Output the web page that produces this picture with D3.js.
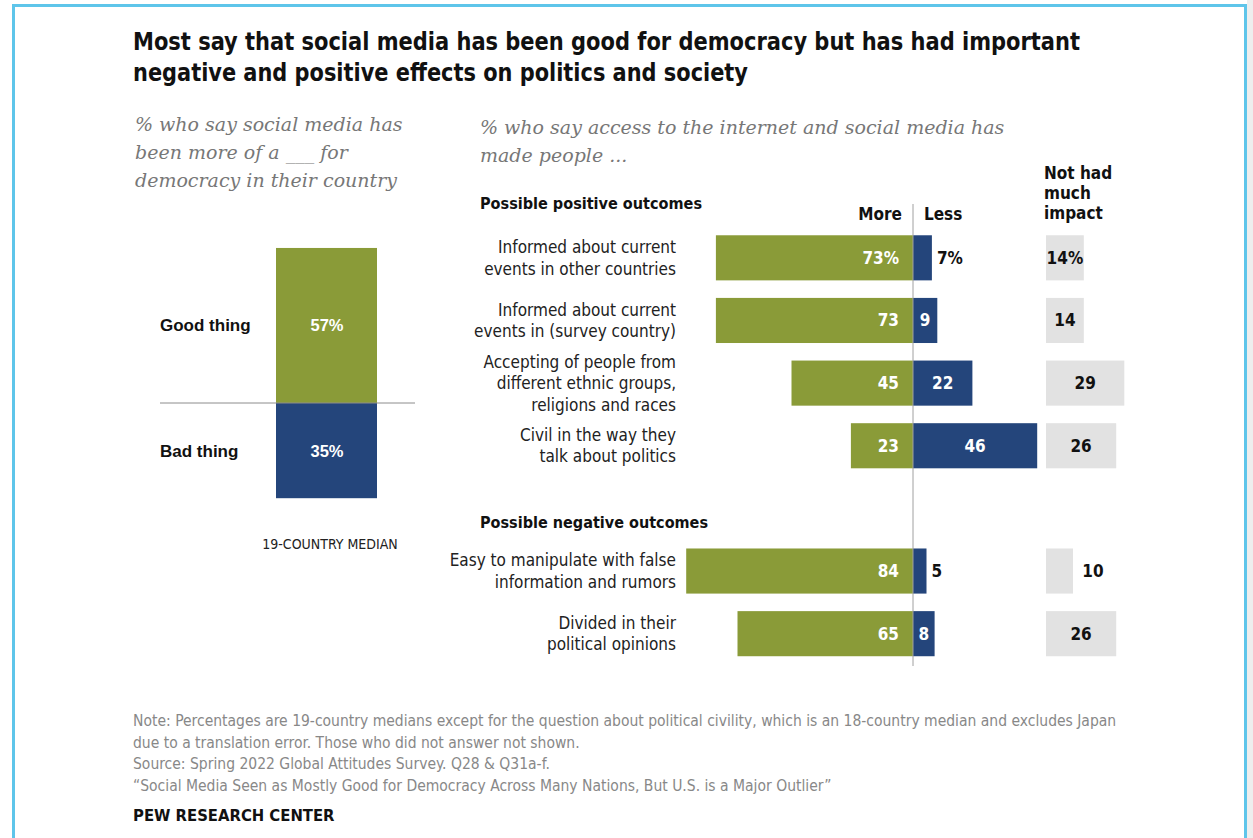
<!DOCTYPE html>
<html>
<head>
<meta charset="utf-8">
<script src="https://cdnjs.cloudflare.com/ajax/libs/d3/7.8.5/d3.min.js"></script>
<style>
  body { margin: 0; background: #fff; }
  svg { display: block; }
  .narrow { font-family: 'Liberation Sans Narrow', 'DejaVu Sans Condensed', 'Roboto Condensed', sans-serif; }
  .wide { font-family: 'Liberation Sans', Arial, sans-serif; }
  .serif { font-family: 'DejaVu Serif', Georgia, serif; font-style: italic; fill: #777; }
</style>
</head>
<body>
<svg id="chart" width="1253" height="838"></svg>
<script>
// left panel
var democracyLabels = ['Good thing', 'Bad thing'];
var democracyValues = [57, 35];

// right panel
var outcomeItems = [
  ['Informed about current', 'events in other countries'],
  ['Informed about current', 'events in (survey country)'],
  ['Accepting of people from', 'different ethnic groups,', 'religions and races'],
  ['Civil in the way they', 'talk about politics'],
  ['Easy to manipulate with false', 'information and rumors'],
  ['Divided in their', 'political opinions']
];
var outcomeGroups = ['pos', 'pos', 'pos', 'pos', 'neg', 'neg'];
var moreValues = [73, 73, 45, 23, 84, 65];
var lessValues = [7, 9, 22, 46, 5, 8];
var noImpactValues = [14, 14, 29, 26, 10, 26];

var noteLines = [
  'Note: Percentages are 19-country medians except for the question about political civility, which is an 18-country median and excludes Japan',
  'due to a translation error. Those who did not answer not shown.',
  'Source: Spring 2022 Global Attitudes Survey. Q28 & Q31a-f.',
  '\u201cSocial Media Seen as Mostly Good for Democracy Across Many Nations, But U.S. is a Major Outlier\u201d'
];

var GREEN = '#8a9b38', BLUE = '#24457b', GREY = '#e2e2e2';

var svg = d3.select('#chart');

// frame
svg.append('rect').attr('x', 1247).attr('y', 0).attr('width', 6).attr('height', 838).attr('fill', '#eeeeee');
svg.append('path')
  .attr('d', 'M13.5,840 V5.5 H1245.5 V840')
  .attr('fill', 'none')
  .attr('stroke', '#5ec5ea')
  .attr('stroke-width', 3);

// title (fonts here are wider than the original condensed face, so squeeze to fit)
var title = svg.append('text').attr('class', 'narrow')
  .attr('font-size', 25.5).attr('font-weight', 'bold').attr('fill', '#111');
title.append('tspan').attr('x', 133).attr('y', 50)
  .attr('textLength', 947).attr('lengthAdjust', 'spacingAndGlyphs')
  .text('Most say that social media has been good for democracy but has had important');
title.append('tspan').attr('x', 133).attr('y', 81)
  .attr('textLength', 615).attr('lengthAdjust', 'spacingAndGlyphs')
  .text('negative and positive effects on politics and society');

// subtitles
function multiline(g, lines, x, y, lh) {
  g.selectAll('tspan').data(lines).join('tspan')
    .attr('x', x)
    .attr('y', function(d, i) { return y + i * lh; })
    .text(function(d) { return d; });
}
multiline(svg.append('text').attr('class', 'serif').attr('font-size', 19),
  ['% who say social media has', 'been more of a ___ for', 'democracy in their country'], 135, 131, 28);
multiline(svg.append('text').attr('class', 'serif').attr('font-size', 19),
  ['% who say access to the internet and social media has', 'made people ...'], 480, 134, 28);

// ---- left panel: stacked good / bad bar
var yDem = d3.scaleLinear().domain([0, 100]).range([0, 272]);
var baseY = 403;
var left = svg.append('g');

left.selectAll('.dem-bar')
  .data(democracyValues)
  .join('rect')
  .classed('dem-bar', true)
  .attr('x', 276)
  .attr('width', 101)
  .attr('y', function(d, i) { return i == 0 ? baseY - yDem(d) : baseY; })
  .attr('height', function(d) { return yDem(d); })
  .attr('fill', function(d, i) { return i == 0 ? GREEN : BLUE; });

left.append('line')
  .attr('x1', 160).attr('x2', 415).attr('y1', baseY).attr('y2', baseY)
  .attr('stroke', '#8c8c8c').attr('stroke-width', 1);

left.selectAll('.dem-label')
  .data(democracyLabels)
  .join('text')
  .attr('class', 'wide')
  .attr('x', 160)
  .attr('y', function(d, i) {
    var v = democracyValues[i];
    return (i == 0 ? baseY - yDem(v) / 2 : baseY + yDem(v) / 2) + 6;
  })
  .attr('font-size', 17).attr('font-weight', 'bold').attr('fill', '#111')
  .text(function(d) { return d; });

left.selectAll('.dem-value')
  .data(democracyValues)
  .join('text')
  .attr('class', 'wide')
  .attr('x', 327)
  .attr('y', function(d, i) {
    return (i == 0 ? baseY - yDem(d) / 2 : baseY + yDem(d) / 2) + 6;
  })
  .attr('text-anchor', 'middle')
  .attr('font-size', 16.5).attr('font-weight', 'bold').attr('fill', '#fff')
  .text(function(d) { return d + '%'; });

left.append('text').attr('class', 'narrow')
  .attr('x', 330).attr('y', 549).attr('text-anchor', 'middle')
  .attr('font-size', 14).attr('fill', '#222')
  .text('19-COUNTRY MEDIAN');

// ---- right panel: diverging bars
var slots = ['r0', 'r1', 'r2', 'r3', 'gap', 'r4', 'r5'];
var y = d3.scaleBand().domain(slots).range([226.5, 665]).paddingInner(0.28).paddingOuter(0.14);
var x = d3.scaleLinear().domain([0, 100]).range([0, 270]);
var zeroX = 913, impactX = 1046;

var rows = outcomeItems.map(function(lines, i) {
  return {
    key: 'r' + i,
    lines: lines,
    group: outcomeGroups[i],
    more: moreValues[i],
    less: lessValues[i],
    none: noImpactValues[i]
  };
});

var right = svg.append('g');

// section headers
right.append('text').attr('class', 'narrow')
  .attr('x', 480).attr('y', 209)
  .attr('font-size', 16.5).attr('font-weight', 'bold').attr('fill', '#111')
  .attr('textLength', 222).attr('lengthAdjust', 'spacingAndGlyphs')
  .text('Possible positive outcomes');
right.append('text').attr('class', 'narrow')
  .attr('x', 480).attr('y', 528)
  .attr('font-size', 16.5).attr('font-weight', 'bold').attr('fill', '#111')
  .attr('textLength', 228).attr('lengthAdjust', 'spacingAndGlyphs')
  .text('Possible negative outcomes');

// column headers
right.append('text').attr('class', 'narrow')
  .attr('x', zeroX - 11).attr('y', 220).attr('text-anchor', 'end')
  .attr('font-size', 17).attr('font-weight', 'bold').attr('fill', '#111')
  .text('More');
right.append('text').attr('class', 'narrow')
  .attr('x', zeroX + 11).attr('y', 220)
  .attr('font-size', 17).attr('font-weight', 'bold').attr('fill', '#111')
  .text('Less');
multiline(right.append('text').attr('class', 'narrow')
  .attr('font-size', 17).attr('font-weight', 'bold').attr('fill', '#111'),
  ['Not had', 'much', 'impact'], 1044, 179, 20);

var row = right.selectAll('.row')
  .data(rows)
  .join('g')
  .classed('row', true)
  .attr('transform', function(d) { return 'translate(0,' + y(d.key) + ')'; });

var bh = y.bandwidth();

row.append('rect')
  .attr('x', function(d) { return zeroX - x(d.more); })
  .attr('width', function(d) { return x(d.more); })
  .attr('height', bh)
  .attr('fill', GREEN);

row.append('rect')
  .attr('x', zeroX)
  .attr('width', function(d) { return x(d.less); })
  .attr('height', bh)
  .attr('fill', BLUE);

row.append('rect')
  .attr('x', impactX)
  .attr('width', function(d) { return x(d.none); })
  .attr('height', bh)
  .attr('fill', GREY);

// item labels
row.append('text').attr('class', 'narrow')
  .attr('font-size', 17).attr('fill', '#222').attr('text-anchor', 'end')
  .each(function(d) {
    var n = d.lines.length;
    d3.select(this).selectAll('tspan').data(d.lines).join('tspan')
      .attr('x', 676)
      .attr('y', function(l, i) { return bh / 2 + 6 + (i - (n - 1) / 2) * 21.5; })
      .text(function(l) { return l; });
  });

// value labels
row.append('text').attr('class', 'narrow')
  .attr('x', zeroX - 14).attr('y', bh / 2 + 6)
  .attr('text-anchor', 'end')
  .attr('font-size', 17).attr('font-weight', 'bold').attr('fill', '#fff')
  .text(function(d, i) { return d.more + (i == 0 ? '%' : ''); });

row.append('text').attr('class', 'narrow')
  .attr('x', function(d) {
    return d.less < 8 ? zeroX + x(d.less) + 5 : zeroX + x(d.less) / 2;
  })
  .attr('y', bh / 2 + 6)
  .attr('text-anchor', function(d) { return d.less < 8 ? 'start' : 'middle'; })
  .attr('font-size', 17).attr('font-weight', 'bold')
  .attr('fill', function(d) { return d.less < 8 ? '#111' : '#fff'; })
  .text(function(d, i) { return d.less + (i == 0 ? '%' : ''); });

row.append('text').attr('class', 'narrow')
  .attr('x', function(d) {
    return d.none < 12 ? impactX + x(d.none) + 20 : impactX + x(d.none) / 2;
  })
  .attr('y', bh / 2 + 6)
  .attr('text-anchor', 'middle')
  .attr('font-size', 17).attr('font-weight', 'bold').attr('fill', '#111')
  .text(function(d, i) { return d.none + (i == 0 ? '%' : ''); });

// zero line
right.append('line')
  .attr('x1', zeroX).attr('x2', zeroX)
  .attr('y1', 204).attr('y2', 666)
  .attr('stroke', '#a0a0a0').attr('stroke-width', 1);

// notes
svg.append('g').selectAll('text')
  .data(noteLines)
  .join('text')
  .attr('class', 'narrow')
  .attr('x', 133)
  .attr('y', function(d, i) { return 726 + i * 21.5; })
  .attr('font-size', 15.5).attr('fill', '#888')
  .text(function(d) { return d; });

svg.append('text').attr('class', 'narrow')
  .attr('x', 133).attr('y', 821)
  .attr('font-size', 16.5).attr('font-weight', 'bold').attr('fill', '#111')
  .text('PEW RESEARCH CENTER');
</script>
</body>
</html>
